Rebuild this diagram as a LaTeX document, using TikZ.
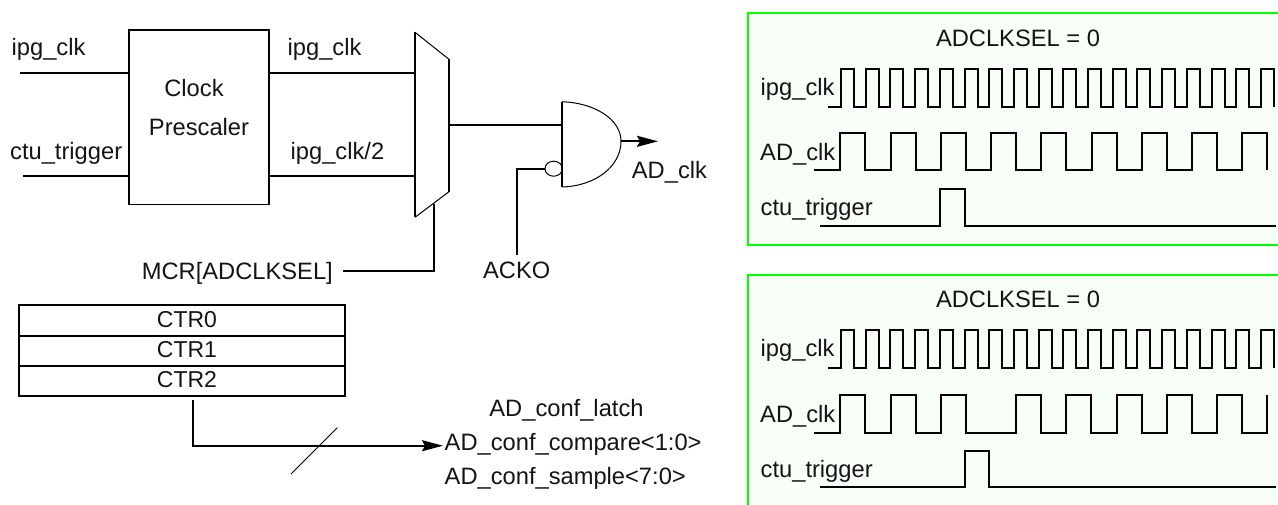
\documentclass[tikz,border=0pt]{standalone}
\usepackage{fontspec}
\setmainfont{Liberation Sans}
\usetikzlibrary{arrows.meta}
\tikzset{
  x=1pt,y=-1pt,
  lbl/.style={inner sep=0pt,anchor=base,font=\fontsize{23.7}{28}\selectfont,text=black!92},
  lblw/.style={lbl,anchor=base west},
  wire/.style={draw=black,line width=1.8pt,line join=miter},
  fine wire/.style={draw=black,line width=1pt},
  panel/.style={draw=green,line width=1.8pt,fill={rgb,255:red,247;green,255;blue,247}},
  sig/.style={draw=black,line width=2pt,line join=miter},
  arr/.style={-{Stealth[length=21pt,width=11pt,inset=3pt]}},
  row/.style={draw=black,line width=1.8pt,minimum width=326pt,inner sep=0pt}
}
\begin{document}
\begin{tikzpicture}
\useasboundingbox (0,0) rectangle (1278,504);
% panels
\path[panel] (1290,13) -- (748,13) -- (748,245) -- (1290,245);
\path[panel] (1290,275) -- (748,275) -- (748,520) -- (1290,520);
% panel 1
\node[lbl] (t1) at (1018,46.7) {ADCLKSEL = 0};
\node[lblw] (a1) at (760.5,95) {ipg\_clk};
\node[lblw] (b1) at (760,160.7) {AD\_clk};
\node[lblw] (c1) at (760.5,215.7) {ctu\_trigger};
\draw[sig] (828.3,106.7) -- (841,106.7) foreach \i in {1,...,17} { -- ++(0,-38) -- ++(13,0) -- ++(0,38) -- ++(11.7,0)} -- ++(0,-38) -- ++(13,0) -- ++(0,38);
\draw[sig] (814.3,170.3) -- (840.3,170.3) foreach \i in {1,...,8} { -- ++(0,-37.3) -- ++(25,0) -- ++(0,37.3) -- ++(25.25,0)} -- ++(0,-37.3) -- ++(25,0) -- ++(0,37.3);
\draw[sig] (820.3,226.3) -- (940,226.3) -- (940,188.7) -- (965,188.7) -- (965,226.3) -- (1275.7,226.3);
% panel 2
\node[lbl] (t2) at (1018,307.7) {ADCLKSEL = 0};
\node[lblw] (a2) at (760.5,356.7) {ipg\_clk};
\node[lblw] (b2) at (760,422.3) {AD\_clk};
\node[lblw] (c2) at (760.5,477) {ctu\_trigger};
\draw[sig] (828.3,368) -- (841,368) foreach \i in {1,...,17} { -- ++(0,-38) -- ++(13,0) -- ++(0,38) -- ++(11.7,0)} -- ++(0,-38) -- ++(13,0) -- ++(0,38);
\draw[sig] (814.3,432.7) -- (840.3,432.7) foreach \i in {1,2} { -- ++(0,-37.7) -- ++(25,0) -- ++(0,37.7) -- ++(25.25,0)} -- ++(0,-37.7) -- ++(25,0) -- ++(0,37.7) -- (1016,432.7)
  foreach \i in {1,...,5} { -- ++(0,-37.7) -- ++(25,0) -- ++(0,37.7) -- ++(25.25,0)} -- ++(0,-37.7);
\draw[sig] (820.3,487.3) -- (965,487.3) -- (965,451) -- (989.3,451) -- (989.3,487.3) -- (1275.7,487.3);
% prescaler
\node[draw=black,line width=1.8pt,minimum width=140pt,minimum height=174.5pt,inner sep=0pt] (pre) at (199,117.3) {};
\node[lbl] (clk) at (194,96.7) {Clock};
\node[lbl] (prs) at (199,135) {Prescaler};
\node[lblw] (i1) at (11.5,55) {ipg\_clk};
\node[lblw] (i2) at (10,159) {ctu\_trigger};
\node[lblw] (o1) at (287.5,55) {ipg\_clk};
\node[lblw] (o2) at (290.5,159) {ipg\_clk/2};
\coordinate (in1) at (20,73.3);
\coordinate (in2) at (23,175.7);
\coordinate (mi1) at (415,73.3);
\coordinate (mi2) at (415,175.7);
\draw[wire] (in1) -- (in1-|pre.west);
\draw[wire] (in2) -- (in2-|pre.west);
\draw[wire] (mi1-|pre.east) -- (mi1);
\draw[wire] (mi2-|pre.east) -- (mi2);
% mux
\coordinate (m1) at (415,32.3);
\coordinate (m2) at (449,59.3);
\coordinate (m3) at (449,191.7);
\coordinate (m4) at (415,217.3);
\draw[fine wire] (m1) -- (m2) (m3) -- (m4);
\draw[wire] (m1) -- (m4) (m2) -- (m3);
\coordinate (mo) at (449,125);
\coordinate (ms) at (434,203.5);
% gate
\draw[fine wire] (562,101.7) coordinate (g1) .. controls (596,103) and (621,120) .. (621,141.3) coordinate (gt) .. controls (621,166) and (596,186) .. (562,187) coordinate (g2);
\draw[wire] (g1) -- (g2);
\draw[wire] (mo) -- (mo-|g1);
\draw[fine wire] (553.7,168.7) ellipse[x radius=8.7pt,y radius=7.5pt];
\coordinate (bub) at (545,168.7);
\coordinate (ackt) at (517,255);
\node[lbl] (acko) at (516.7,278) {ACKO};
\draw[wire] (bub) -- (bub-|ackt) -- (ackt);
\coordinate (gend) at (658,141.3);
\draw[wire,arr] (gt) -- (gend);
\node[lblw] (adc) at (631.7,178.3) {AD\_clk};
\node[lbl,anchor=base east] (mcr) at (333,279.3) {MCR[ADCLKSEL]};
\coordinate (sc) at (434,270.7);
\draw[wire] (343,270.7) -- (sc) -- (ms);
% table
\node[row,minimum height=30.5pt] (r0) at (182,320.5) {};
\node[row,minimum height=30.5pt] (r1) at (182,351) {};
\node[row,minimum height=29.5pt] (r2) at (182,381) {};
\node[lbl,font=\fontsize{23}{27}\selectfont] (c0) at (187,327.7) {CTR0};
\node[lbl,font=\fontsize{23}{27}\selectfont] (c1b) at (187,357.7) {CTR1};
\node[lbl,font=\fontsize{23}{27}\selectfont] (c2b) at (187,387.7) {CTR2};
\coordinate (ts) at (192.7,400);
\coordinate (tc) at (192.7,445.7);
\coordinate (te) at (443,445.7);
\draw[wire,arr] (ts) -- (tc) -- (te);
\draw[black,line width=1pt] (291,474) coordinate (s1) -- (337.3,427.7) coordinate (s2);
\node[lbl] (lat) at (566.5,416.7) {AD\_conf\_latch};
\node[lblw] (cmp) at (444.5,450.7) {AD\_conf\_compare<1:0>};
\node[lblw] (smp) at (444.5,484.3) {AD\_conf\_sample<7:0>};
\end{tikzpicture}
\end{document}
